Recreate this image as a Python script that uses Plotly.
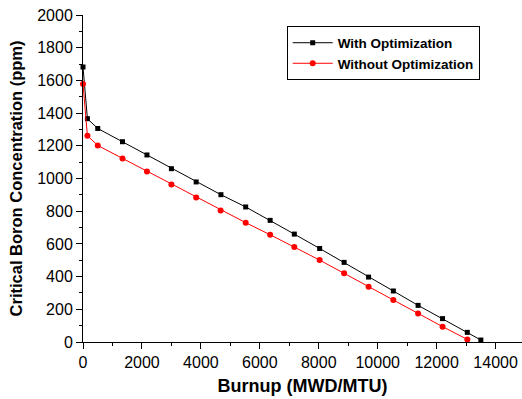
import plotly.graph_objects as go

burnup_with = [0, 150, 500, 1340, 2170, 3000, 3840, 4680, 5520, 6350, 7170, 8030,
               8860, 9690, 10530, 11370, 12200, 13040, 13500]
boron_with = [1682, 1366, 1306, 1225, 1144, 1060, 979, 901, 826, 744, 660, 572,
              487, 397, 312, 224, 143, 59, 12]

burnup_without = [0, 150, 500, 1340, 2170, 3000, 3840, 4670, 5520, 6350, 7170, 8030,
                  8860, 9690, 10530, 11370, 12200, 13040]
boron_without = [1578, 1262, 1202, 1123, 1043, 964, 884, 805, 730, 656, 581, 501,
                 420, 338, 257, 175, 94, 16]

x_ticks = [0, 2000, 4000, 6000, 8000, 10000, 12000, 14000]
x_ticklabels = ["0", "2000", "4000", "6000", "8000", "10000", "12000", "14000"]

FONT = "Liberation Sans, Arial, sans-serif"

fig = go.Figure()
fig.add_trace(go.Scatter(
    x=burnup_with, y=boron_with, mode="lines+markers", name="With Optimization",
    line=dict(color="black", width=1),
    marker=dict(symbol="square", size=5, color="black"),
    cliponaxis=False))
fig.add_trace(go.Scatter(
    x=burnup_without, y=boron_without, mode="lines+markers", name="Without Optimization",
    line=dict(color="#ff0000", width=1),
    marker=dict(symbol="circle", size=6, color="#ff0000"),
    cliponaxis=False))

fig.update_layout(
    width=522, height=399,
    margin=dict(l=83, r=0, t=15, b=57),
    paper_bgcolor="white", plot_bgcolor="white",
    font=dict(family=FONT, size=16, color="black"),
    showlegend=True,
    legend=dict(
        x=0.464, y=0.965, xanchor="left", yanchor="top",
        bordercolor="black", borderwidth=1, bgcolor="white",
        font=dict(family=FONT, size=13.5, color="black", weight="bold"),
        itemwidth=40, tracegroupgap=0,
    ),
    xaxis=dict(
        range=[0, 14896], tickvals=x_ticks, ticktext=x_ticklabels,
        showline=True, linecolor="black", linewidth=1, mirror=False,
        ticks="outside", ticklen=6, tickcolor="black", showgrid=False, zeroline=False,
        minor=dict(ticks="outside", ticklen=3, dtick=1000, tickcolor="black", showgrid=False),
        title=dict(text="<b>Burnup (MWD/MTU)</b>", font=dict(family=FONT, size=18), standoff=9),
        tickfont=dict(family=FONT, size=16),
    ),
    yaxis=dict(
        range=[0, 2000], dtick=200,
        showline=True, linecolor="black", linewidth=1, mirror=False,
        ticks="outside", ticklen=6, tickcolor="black", showgrid=False, zeroline=False,
        minor=dict(ticks="outside", ticklen=3, dtick=100, tickcolor="black", showgrid=False),
        title=dict(text="<b>Critical Boron Concentration (ppm)</b>", font=dict(family=FONT, size=16.5), standoff=10),
        tickfont=dict(family=FONT, size=16),
    ),
)

fig.write_html("out.html")
